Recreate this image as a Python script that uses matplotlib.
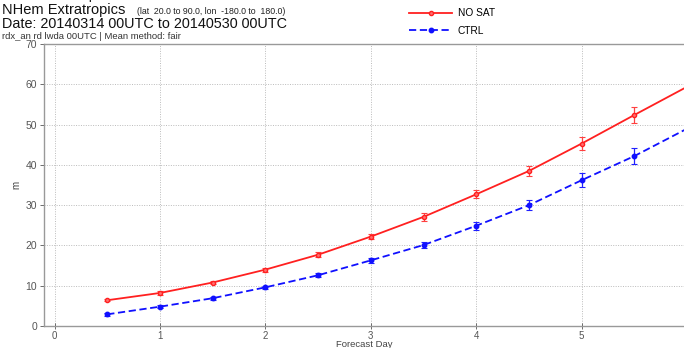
#!/usr/bin/env python3
"""RMSE vs forecast day, NO SAT vs CTRL (NHem extratropics)."""

import matplotlib

matplotlib.use("Agg")
import matplotlib.pyplot as plt
import numpy as np

DAYS = [0.5, 1.0, 1.5, 2.0, 2.5, 3.0, 3.5, 4.0, 4.5, 5.0, 5.5, 6.0]
NOSAT = [6.4, 8.2, 10.8, 14.0, 17.7, 22.2, 27.1, 32.7, 38.5, 45.3, 52.4, 59.4]
NOSAT_ERR = [0.3, 0.4, 0.4, 0.5, 0.6, 0.7, 1.0, 1.0, 1.2, 1.5, 2.0, 2.2]
CTRL = [2.9, 4.8, 6.9, 9.6, 12.6, 16.3, 20.1, 24.9, 30.0, 36.2, 42.2, 49.0]
CTRL_ERR = [0.3, 0.3, 0.4, 0.4, 0.5, 0.6, 0.8, 1.0, 1.2, 1.8, 2.0, 2.2]
XTICKS = [0, 1, 2, 3, 4, 5]
YTICKS = [0, 10, 20, 30, 40, 50, 60, 70]

plt.rcParams["font.family"] = ["Liberation Sans", "DejaVu Sans"]

fig = plt.figure(figsize=(6.84, 3.48), dpi=100)
ax = fig.add_axes([0.0643, 0.0632, 0.9357, 0.8103])

ax.errorbar(DAYS, NOSAT, yerr=NOSAT_ERR, fmt="none", ecolor="#ff4040",
            elinewidth=0.9, capsize=2, capthick=0.8)
ax.errorbar(DAYS, CTRL, yerr=CTRL_ERR, fmt="none", ecolor="#2020ff",
            elinewidth=0.9, capsize=2, capthick=0.8)
ax.plot(DAYS, NOSAT, color="#ff2020", linewidth=1.3, marker="o",
        markersize=3.0, markerfacecolor="#ff7070", label="NO SAT")
ax.plot(DAYS, CTRL, color="#1010ff", linewidth=1.3, linestyle=(0, (4, 2)),
        marker="o", markersize=3.2, label="CTRL")

ax.set_xlim(-0.1, 5.97)
ax.set_ylim(0, 70)
ax.set_xticks(XTICKS)
ax.set_yticks(YTICKS)
ax.tick_params(labelsize=7.5, colors="#555555", length=3, width=0.6, pad=2)
ax.tick_params(axis="x", direction="inout", length=5, labelsize=7, pad=1)
ax.grid(True, color="#bbbbbb", linestyle=(0, (1, 1.5)), linewidth=0.7)
for side in ["left", "bottom", "top"]:
    ax.spines[side].set_color("#999999")
    ax.spines[side].set_linewidth(1.0)
ax.spines["right"].set_visible(False)

ax.set_xlabel("Forecast Day", fontsize=6.8, color="#444444", labelpad=-0.5)
ax.set_ylabel("m", fontsize=7, color="#444444", labelpad=3)

fig.text(0.005, 1.0 - 2.0 / 348, "Root Mean Square Error", fontsize=10,
         va="bottom", ha="left", color="#222222")
fig.text(0.003, 0.970, "NHem Extratropics", fontsize=10.5, va="center",
         ha="left", color="#111111")
fig.text(0.200, 0.966, "(lat  20.0 to 90.0, lon  -180.0 to  180.0)",
         fontsize=6.3, va="center", ha="left", color="#222222")
fig.text(0.003, 0.930, "Date: 20140314 00UTC to 20140530 00UTC", fontsize=10.4,
         va="center", ha="left", color="#111111")
fig.text(0.003, 0.896, "rdx_an rd lwda 00UTC | Mean method: fair", fontsize=6.8,
         va="center", ha="left", color="#333333")

fig.legend(loc="upper left", bbox_to_anchor=(0.585, 1.003), frameon=False,
           fontsize=7.3, handlelength=4.2, labelspacing=0.75,
           handletextpad=0.6)

fig.savefig("out.png", dpi=100)
